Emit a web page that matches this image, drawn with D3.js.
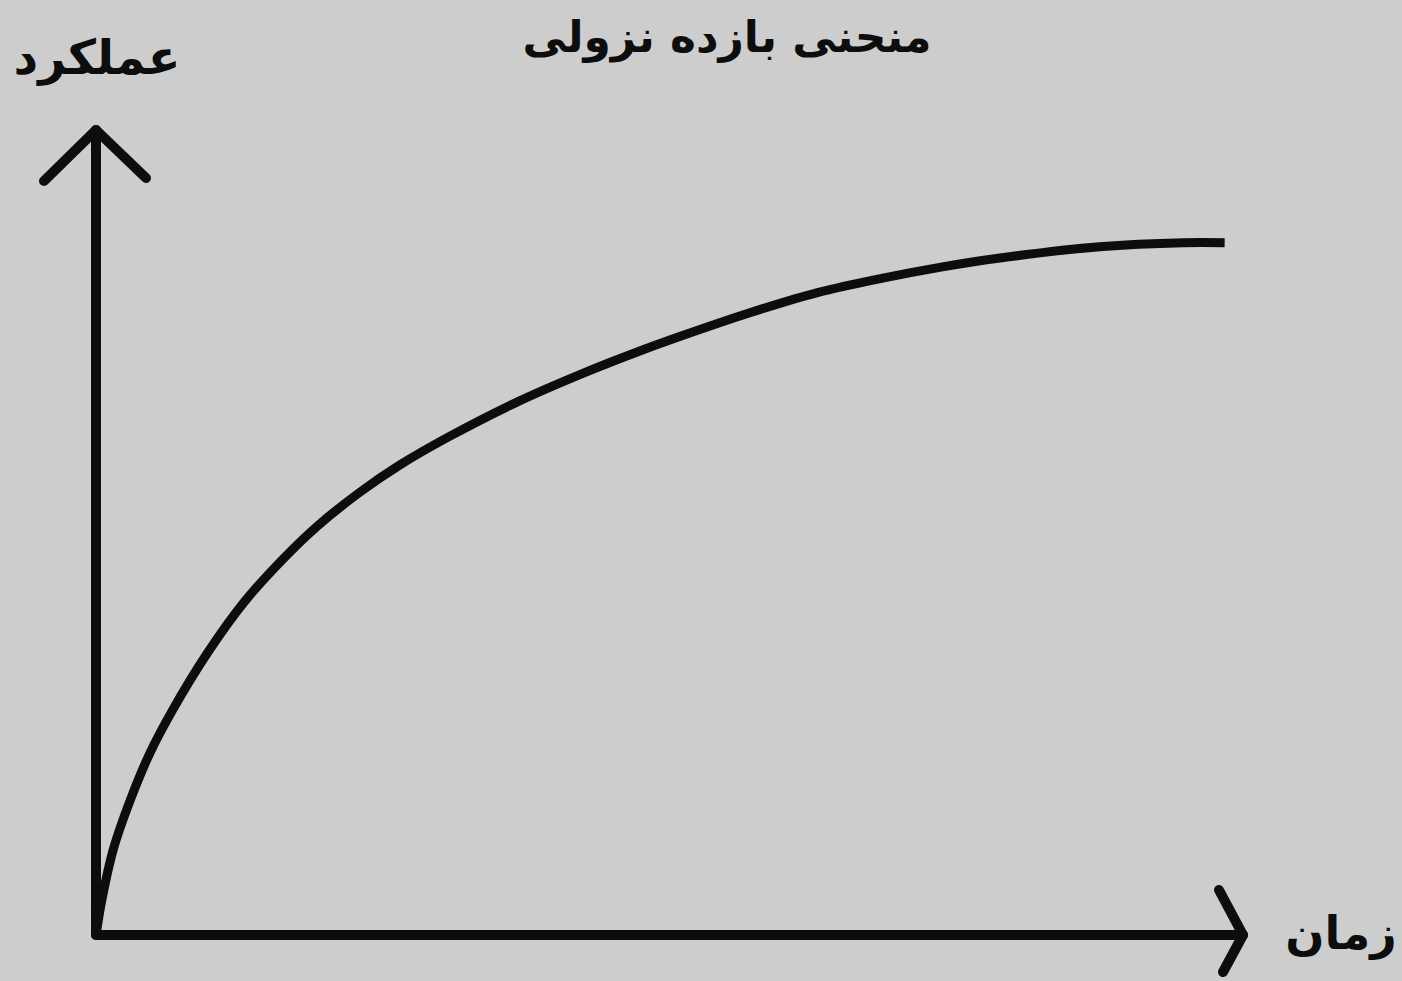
<!DOCTYPE html>
<html lang="fa">
<head>
<meta charset="utf-8">
<title>منحنی بازده نزولی</title>
<script src="https://cdn.jsdelivr.net/npm/d3@7"></script>
<style>
  html, body { margin: 0; padding: 0; background: #cdcdcd; }
  svg { display: block; }
  text { font-family: "DejaVu Sans", sans-serif; font-weight: bold; fill: #0d0d0d; }
</style>
</head>
<body>
<div id="main"></div>
<script>
// time (x) and performance (y) on a 0-100 scale
var time = [0, 0.1, 0.5, 1.5, 3, 4.7, 6.7, 9.7, 13, 16.3, 19.3, 23, 26.5, 30.9, 36.7, 42.5, 47.7, 51.2, 57, 62.9, 68.6, 73.8, 78.8, 87.5, 94.8, 98.4];
var performance = [0, 0.9, 4.3, 10.6, 16.8, 22.6, 28, 35, 41.5, 46.7, 50.8, 55, 58.4, 62, 66.2, 69.8, 72.7, 74.5, 77.3, 79.8, 81.6, 83, 84.1, 85.5, 86, 86];

var title = "منحنی بازده نزولی";
var yLabel = "عملکرد";
var xLabel = "زمان";

var w = 1402, h = 981;
var ink = "#0d0d0d";

var svg = d3.select("#main").append("svg")
  .attr("width", w)
  .attr("height", h);

svg.append("rect").attr("width", w).attr("height", h).attr("fill", "#cdcdcd");

var x = d3.scaleLinear().domain([0, 100]).range([96, 1243]);
var y = d3.scaleLinear().domain([0, 100]).range([935, 130]);

// axes with hand drawn arrow heads
var axes = svg.append("g")
  .attr("stroke", ink)
  .attr("stroke-width", 10)
  .attr("stroke-linecap", "round")
  .attr("stroke-linejoin", "round")
  .attr("fill", "none");

axes.append("path")
  .attr("d", d3.line()([[x(0), y(0)], [x(0), y(100)]]));
axes.append("path")
  .attr("d", d3.line()([[x(0) - 52, y(100) + 51], [x(0), y(100)], [x(0) + 50, y(100) + 48]]));

axes.append("path")
  .attr("d", d3.line()([[x(0), y(0)], [x(100), y(0)]]));
axes.append("path")
  .attr("d", d3.line()([[x(100) - 24, y(0) - 45], [x(100), y(0)], [x(100) - 20, y(0) + 37]]));

// the curve
var pts = time.map(function(t, i) { return [t, performance[i]]; });
var line = d3.line()
  .x(function(d) { return x(d[0]); })
  .y(function(d) { return y(d[1]); })
  .curve(d3.curveCatmullRom.alpha(0.5));

svg.append("path")
  .datum(pts)
  .attr("d", line)
  .attr("fill", "none")
  .attr("stroke", ink)
  .attr("stroke-width", 9)
  .attr("stroke-linecap", "butt");

// texts
svg.append("text")
  .attr("x", 727).attr("y", 52)
  .attr("text-anchor", "middle")
  .attr("direction", "rtl")
  .attr("font-size", 44)
  .text(title);

svg.append("text")
  .attr("x", 97).attr("y", 74)
  .attr("text-anchor", "middle")
  .attr("direction", "rtl")
  .attr("font-size", 48)
  .text(yLabel);

svg.append("text")
  .attr("x", 1341).attr("y", 949)
  .attr("text-anchor", "middle")
  .attr("direction", "rtl")
  .attr("font-size", 46)
  .text(xLabel);
</script>
</body>
</html>
